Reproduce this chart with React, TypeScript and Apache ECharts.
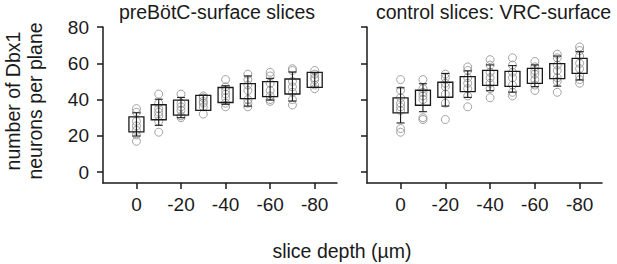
import React, { useEffect, useRef } from "react";
import * as echarts from "echarts";

const depths = [0, -10, -20, -30, -40, -50, -60, -70, -80];
const xTicks = [0, -20, -40, -60, -80];
const yTicks = [0, 20, 40, 60, 80];

const panelTitles = ["preBötC-surface slices", "control slices: VRC-surface"];
const yTitleLines = ["number of Dbx1", "neurons per plane"];
const xTitle = "slice depth (µm)";

const preMean = [26.3, 33.0, 35.6, 38.2, 42.5, 44.7, 45.7, 47.2, 50.8];
const preSD = [6.4, 7.2, 5.6, 4.2, 5.1, 8.3, 6.0, 8.0, 4.0];
const prePoints = [
  [35, 33, 28, 25.5, 23, 20.5, 17],
  [43, 38, 35, 33, 31, 28, 22],
  [43, 38, 36, 34, 31, 30],
  [42, 41, 39, 38, 36, 32],
  [51, 47, 45, 43, 41, 38, 36],
  [54, 51, 48, 45, 40, 38, 36],
  [55, 53, 49, 45, 42, 40, 39],
  [57, 56, 50, 47, 44, 40, 37],
  [56, 54, 52, 51, 48, 46],
];

const ctrlMean = [36.8, 41.0, 45.4, 48.5, 52.0, 51.4, 53.1, 55.7, 58.6];
const ctrlSD = [9.7, 7.7, 9.0, 7.3, 7.1, 7.3, 6.0, 8.3, 7.8];
const ctrlPoints = [
  [51, 45, 41, 38, 36, 34, 24, 22],
  [51, 46, 44, 42, 40, 30, 29],
  [54, 52, 49, 47, 43, 38, 29],
  [58, 56, 52, 49, 46, 42, 36],
  [62, 59, 55, 52, 49, 46, 41],
  [63, 59, 55, 52, 48, 44, 42],
  [61, 58, 56, 54, 51, 48, 45],
  [65, 63, 59, 56, 52, 50, 44],
  [69, 67, 64, 60, 57, 53, 51, 49],
];

const FONT = '"Liberation Sans", Arial, Helvetica, sans-serif';
const INK = "#1a1a1a";
const CIRCLE = "#8c8c8c";

export default function App() {
  const ref = useRef<HTMLDivElement>(null);

  useEffect(() => {
    if (!ref.current) return;
    const chart = echarts.init(ref.current, undefined, { renderer: "svg" });

    const grids = [
      { left: 103, top: 27, width: 234, height: 156 },
      { left: 367, top: 27, width: 235, height: 156 },
    ];

    const xAxes = [0, 1].map((i) => ({
      type: "value",
      gridIndex: i,
      min: -90,
      max: 15,
      inverse: true,
      axisLine: { show: true, onZero: false, lineStyle: { color: INK, width: 1.5 } },
      axisTick: {
        show: true,
        customValues: xTicks,
        length: 6,
        lineStyle: { color: INK, width: 1.5 },
      },
      axisLabel: {
        show: true,
        customValues: xTicks,
        fontSize: 19,
        fontFamily: FONT,
        color: INK,
        margin: 12,
        formatter: (v: number) => String(v),
      },
      splitLine: { show: false },
    }));

    const yAxes = [0, 1].map((i) => ({
      type: "value",
      gridIndex: i,
      min: -6,
      max: 80,
      axisLine: { show: true, onZero: false, lineStyle: { color: INK, width: 1.5 } },
      axisTick: {
        show: true,
        customValues: yTicks,
        length: 6,
        lineStyle: { color: INK, width: 1.5 },
      },
      axisLabel: {
        show: i === 0,
        customValues: yTicks,
        fontSize: 19,
        fontFamily: FONT,
        color: INK,
        margin: 14,
      },
      splitLine: { show: false },
    }));

    const renderBox = (params: any, api: any) => {
      const x = api.value(0);
      const m = api.value(1);
      const s = api.value(2);
      const c = api.coord([x, m]);
      const t = api.coord([x, m + s]);
      const b = api.coord([x, m - s]);
      const h = 7.5;
      const cw = 4;
      const ls = { stroke: INK, lineWidth: 1.1 };
      return {
        type: "group",
        children: [
          {
            type: "rect",
            shape: { x: c[0] - h, y: c[1] - h, width: 2 * h, height: 2 * h },
            style: { fill: "none", stroke: INK, lineWidth: 1.3 },
          },
          { type: "line", shape: { x1: c[0], y1: t[1], x2: c[0], y2: b[1] }, style: ls },
          { type: "line", shape: { x1: c[0] - cw, y1: t[1], x2: c[0] + cw, y2: t[1] }, style: ls },
          { type: "line", shape: { x1: c[0] - cw, y1: b[1], x2: c[0] + cw, y2: b[1] }, style: ls },
        ],
      };
    };

    const panels = [
      { mean: preMean, sd: preSD, pts: prePoints },
      { mean: ctrlMean, sd: ctrlSD, pts: ctrlPoints },
    ];

    const series: any[] = [];
    panels.forEach((p, i) => {
      const scatterData: number[][] = [];
      p.pts.forEach((arr, g) => arr.forEach((v) => scatterData.push([depths[g], v])));
      series.push({
        type: "scatter",
        xAxisIndex: i,
        yAxisIndex: i,
        data: scatterData,
        symbol: "circle",
        symbolSize: 8,
        itemStyle: { color: "rgba(0,0,0,0)", borderColor: CIRCLE, borderWidth: 1 },
        z: 2,
      });
      series.push({
        type: "custom",
        xAxisIndex: i,
        yAxisIndex: i,
        data: depths.map((d, g) => [d, p.mean[g], p.sd[g]]),
        encode: { x: 0, y: 1 },
        renderItem: renderBox,
        z: 3,
      });
    });

    const textStyle = { fontFamily: FONT, fontSize: 19.5, fill: INK };

    chart.setOption({
      animation: false,
      grid: grids,
      xAxis: xAxes,
      yAxis: yAxes,
      series,
      graphic: [
        {
          type: "text",
          x: 217,
          y: 12,
          style: { ...textStyle, text: panelTitles[0], textAlign: "center", textVerticalAlign: "middle" },
        },
        {
          type: "text",
          x: 493.5,
          y: 12,
          style: { ...textStyle, text: panelTitles[1], textAlign: "center", textVerticalAlign: "middle" },
        },
        {
          type: "text",
          x: 13,
          y: 101,
          rotation: Math.PI / 2,
          style: { ...textStyle, text: yTitleLines[0], textAlign: "center", textVerticalAlign: "middle" },
        },
        {
          type: "text",
          x: 34.5,
          y: 101,
          rotation: Math.PI / 2,
          style: { ...textStyle, text: yTitleLines[1], textAlign: "center", textVerticalAlign: "middle" },
        },
        {
          type: "text",
          x: 342,
          y: 251,
          style: { ...textStyle, text: xTitle, textAlign: "center", textVerticalAlign: "middle" },
        },
      ],
    });

    return () => chart.dispose();
  }, []);

  return (
    <div
      ref={ref}
      style={{ position: "fixed", left: 0, top: 0, width: 617, height: 264, background: "#fff" }}
    />
  );
}
